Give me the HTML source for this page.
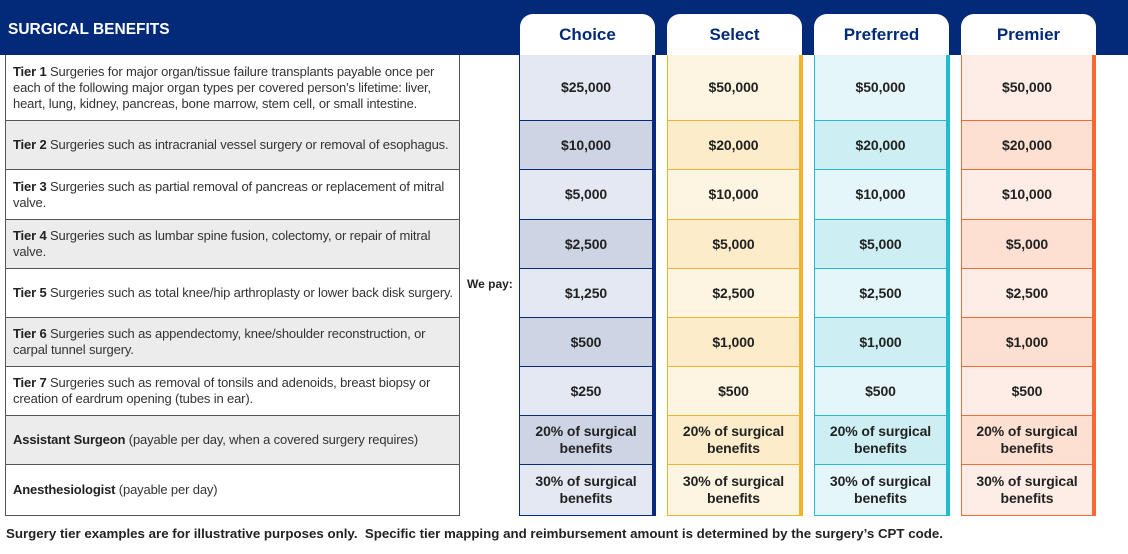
<!DOCTYPE html>
<html><head><meta charset="utf-8"><style>
*{margin:0;padding:0;box-sizing:border-box}
body{width:1128px;height:554px;background:#fff;font-family:"Liberation Sans",Arial,sans-serif;position:relative;overflow:hidden;color:#222}
.band{position:absolute;left:0;top:0;width:1128px;height:55px;background:#032a78}
.title{position:absolute;left:8px;top:21px;color:#fff;font-weight:bold;font-size:15.5px;white-space:nowrap}
.tab{position:absolute;top:14px;height:41px;background:#fff;border-radius:13px 13px 0 0;color:#032a78;font-weight:bold;font-size:17px;text-align:center;line-height:42px}
.lrow{position:absolute;left:5px;width:455px;border:1px solid #555;border-top:none;font-size:13px;letter-spacing:-0.15px;line-height:16px;padding-left:7px;padding-right:2px;display:flex;align-items:center;color:#333}
.lrow b{color:#222}
.g{background:#ebeceb}
.cell{position:absolute;display:flex;align-items:center;justify-content:center;text-align:center;font-weight:bold;font-size:14px;line-height:17px;color:#222;letter-spacing:-0.1px}
.pay{position:absolute;left:467px;top:277px;font-weight:bold;font-size:12px}
.foot{position:absolute;left:6px;top:526px;font-weight:bold;font-size:13.3px;color:#222;white-space:nowrap}
</style></head><body>
<div class="band"></div>
<div class="title">SURGICAL BENEFITS</div>
<div class="tab" style="left:520px;width:135px">Choice</div>
<div class="tab" style="left:667px;width:135px">Select</div>
<div class="tab" style="left:814px;width:135px">Preferred</div>
<div class="tab" style="left:961px;width:135px">Premier</div>

<div class="lrow" style="top:55px;height:66px"><div><b>Tier 1</b> Surgeries for major organ/tissue failure transplants payable once per<br>each of the following major organ types per covered person's lifetime: liver,<br>heart, lung, kidney, pancreas, bone marrow, stem cell, or small intestine.</div></div>
<div class="lrow g" style="top:121px;height:49px"><div style="white-space:nowrap"><b>Tier 2</b> Surgeries such as intracranial vessel surgery or removal of esophagus.</div></div>
<div class="lrow" style="top:170px;height:50px"><div><b>Tier 3</b> Surgeries such as partial removal of pancreas or replacement of mitral<br>valve.</div></div>
<div class="lrow g" style="top:220px;height:49px"><div><b>Tier 4</b> Surgeries such as lumbar spine fusion, colectomy, or repair of mitral<br>valve.</div></div>
<div class="lrow" style="top:269px;height:49px"><div style="white-space:nowrap"><b>Tier 5</b> Surgeries such as total knee/hip arthroplasty or lower back disk surgery.</div></div>
<div class="lrow g" style="top:318px;height:49px"><div><b>Tier 6</b> Surgeries such as appendectomy, knee/shoulder reconstruction, or<br>carpal tunnel surgery.</div></div>
<div class="lrow" style="top:367px;height:49px"><div><b>Tier 7</b> Surgeries such as removal of tonsils and adenoids, breast biopsy or<br>creation of eardrum opening (tubes in ear).</div></div>
<div class="lrow g" style="top:416px;height:49px"><div><b>Assistant Surgeon</b>&nbsp;(payable per day, when a covered surgery requires)</div></div>
<div class="lrow" style="top:465px;height:51px"><div><b>Anesthesiologist</b>&nbsp;(payable per day)</div></div>
<div class="pay">We pay:</div>
<div class="foot">Surgery tier examples are for illustrative purposes only.&nbsp; Specific tier mapping and reimbursement amount is determined by the surgery’s CPT code.</div>

<div id="cols"></div>
<script>
var rows=[[55,121],[121,170],[170,220],[220,269],[269,318],[318,367],[367,416],[416,465],[465,516]];
var cols=[
 {x:519,r:652,l:"#e3e8f2",d:"#cdd4e4",b:"#0a2a7a",v:["$25,000","$10,000","$5,000","$2,500","$1,250","$500","$250"]},
 {x:667,r:799,l:"#fdf5e2",d:"#fcecca",b:"#f0b42a",v:["$50,000","$20,000","$10,000","$5,000","$2,500","$1,000","$500"]},
 {x:814,r:946,l:"#e4f6fa",d:"#cdeff3",b:"#22bcd0",v:["$50,000","$20,000","$10,000","$5,000","$2,500","$1,000","$500"]},
 {x:961,r:1092,l:"#feede6",d:"#fde0d2",b:"#f46a35",v:["$50,000","$20,000","$10,000","$5,000","$2,500","$1,000","$500"]}];
var h="";
cols.forEach(function(c){
 rows.forEach(function(r,i){
  var t=i<7?c.v[i]:(i==7?"20% of surgical<br>benefits":"30% of surgical<br>benefits");
  var bg=(i%2==1)?c.d:c.l;
  h+='<div class="cell" style="left:'+c.x+'px;top:'+r[0]+'px;width:'+(c.r-c.x)+'px;height:'+(r[1]-r[0])+'px;background:'+bg+';border-left:1px solid '+c.b+';border-bottom:1px solid '+c.b+'">'+t+'</div>';
 });
 h+='<div style="position:absolute;left:'+c.r+'px;top:55px;width:4px;height:461px;background:'+c.b+'"></div>';
});
document.getElementById("cols").innerHTML=h;
</script>
</body></html>
